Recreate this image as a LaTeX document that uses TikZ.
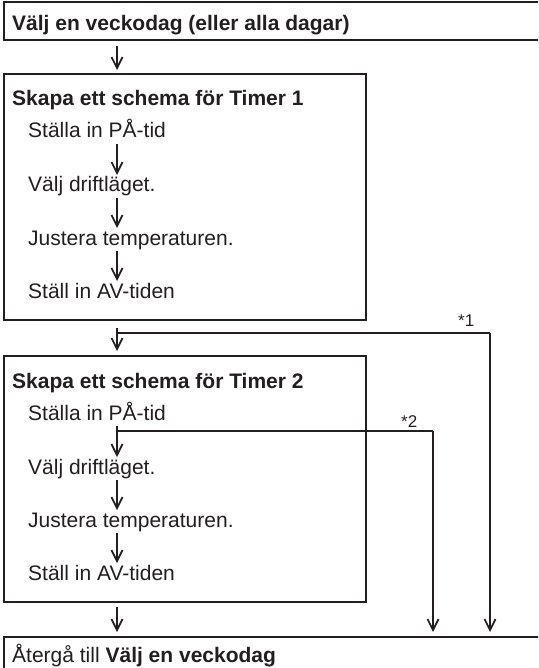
\documentclass[tikz,border=0pt]{standalone}
\usepackage{fontspec}
\setmainfont{Liberation Sans}
\usetikzlibrary{arrows.meta}
\definecolor{ink}{HTML}{231F20}
\begin{document}
\begin{tikzpicture}[x=1pt,y=-1pt,
  boxline/.style={draw=ink,line width=2pt},
  conn/.style={draw=ink,line width=1.7pt},
  arr/.style={conn,-{Straight Barb[length=11pt,width=11pt,line width=1.7pt]}},
  txt/.style={anchor=base west,inner sep=0pt,text=ink,font=\fontsize{21}{25}\selectfont},
  btxt/.style={txt,font=\fontsize{21}{25}\selectfont\bfseries},
  lbl/.style={anchor=base west,inner sep=0pt,text=ink,font=\fontsize{17}{20}\selectfont}]
\clip (0,0) rectangle (538,668);
% boxes
\node[boxline,anchor=north west,minimum width=545pt,minimum height=37.5pt,inner sep=0pt] (top) at (3,1.5) {};
\node[boxline,anchor=north west,minimum width=362pt,minimum height=246pt,inner sep=0pt] (t1) at (3,73) {};
\node[boxline,anchor=north west,minimum width=362pt,minimum height=246pt,inner sep=0pt] (t2) at (3,355) {};
\node[boxline,anchor=north west,minimum width=545pt,minimum height=60pt,inner sep=0pt] (fin) at (3,636) {};
% texts
\node[btxt] (toptxt) at (12,31) {Välj en veckodag (eller alla dagar)};
\node[btxt] (t1h) at (12,106) {Skapa ett schema för Timer 1};
\node[txt] (t1a) at (28,138) {Ställa in PÅ-tid};
\node[txt] (t1b) at (28,192) {Välj driftläget.};
\node[txt] (t1c) at (28,245) {Justera temperaturen.};
\node[txt] (t1d) at (28,298) {Ställ in AV-tiden};
\node[btxt] (t2h) at (12,388) {Skapa ett schema för Timer 2};
\node[txt] (t2a) at (28,420) {Ställa in PÅ-tid};
\node[txt] (t2b) at (28,474) {Välj driftläget.};
\node[txt] (t2c) at (28,527) {Justera temperaturen.};
\node[txt] (t2d) at (28,580) {Ställ in AV-tiden};
\node[txt] (fintxt) at (12,662) {Återgå till \textbf{Välj en veckodag}};
\node[lbl] (s1) at (458,326) {*1};
\node[lbl] (s2) at (401,427) {*2};
% coordinates
\coordinate (ax) at (117,0);
\coordinate (j1) at (117,333);
\coordinate (j2) at (117,431);
\coordinate (r1) at (490,333);
\coordinate (r2) at (433,431);
% main flow arrows
\draw[arr] ([yshift=-5pt]top.south -| ax) -- ([yshift=3pt]t1.north -| ax);
\draw[arr] ([yshift=-6pt]t1a.base -| ax) -- ([yshift=17pt]t1b.base -| ax);
\draw[arr] ([yshift=-6pt]t1b.base -| ax) -- ([yshift=17pt]t1c.base -| ax);
\draw[arr] ([yshift=-6pt]t1c.base -| ax) -- ([yshift=17pt]t1d.base -| ax);
\draw[arr] ([yshift=-7pt]t1.south -| ax) -- ([yshift=4pt]t2.north -| ax);
\draw[arr] ([yshift=-6pt]t2a.base -| ax) -- ([yshift=17pt]t2b.base -| ax);
\draw[arr] ([yshift=-6pt]t2b.base -| ax) -- ([yshift=17pt]t2c.base -| ax);
\draw[arr] ([yshift=-6pt]t2c.base -| ax) -- ([yshift=17pt]t2d.base -| ax);
\draw[arr] ([yshift=-4pt]t2.south -| ax) -- ([yshift=4pt]fin.north -| ax);
% skip lines
\draw[conn] (j1) -- (r1);
\draw[arr] (r1) -- ([yshift=4pt]fin.north -| r1);
\draw[conn] (j2) -- (r2);
\draw[arr] (r2) -- ([yshift=4pt]fin.north -| r2);
\end{tikzpicture}
\end{document}
